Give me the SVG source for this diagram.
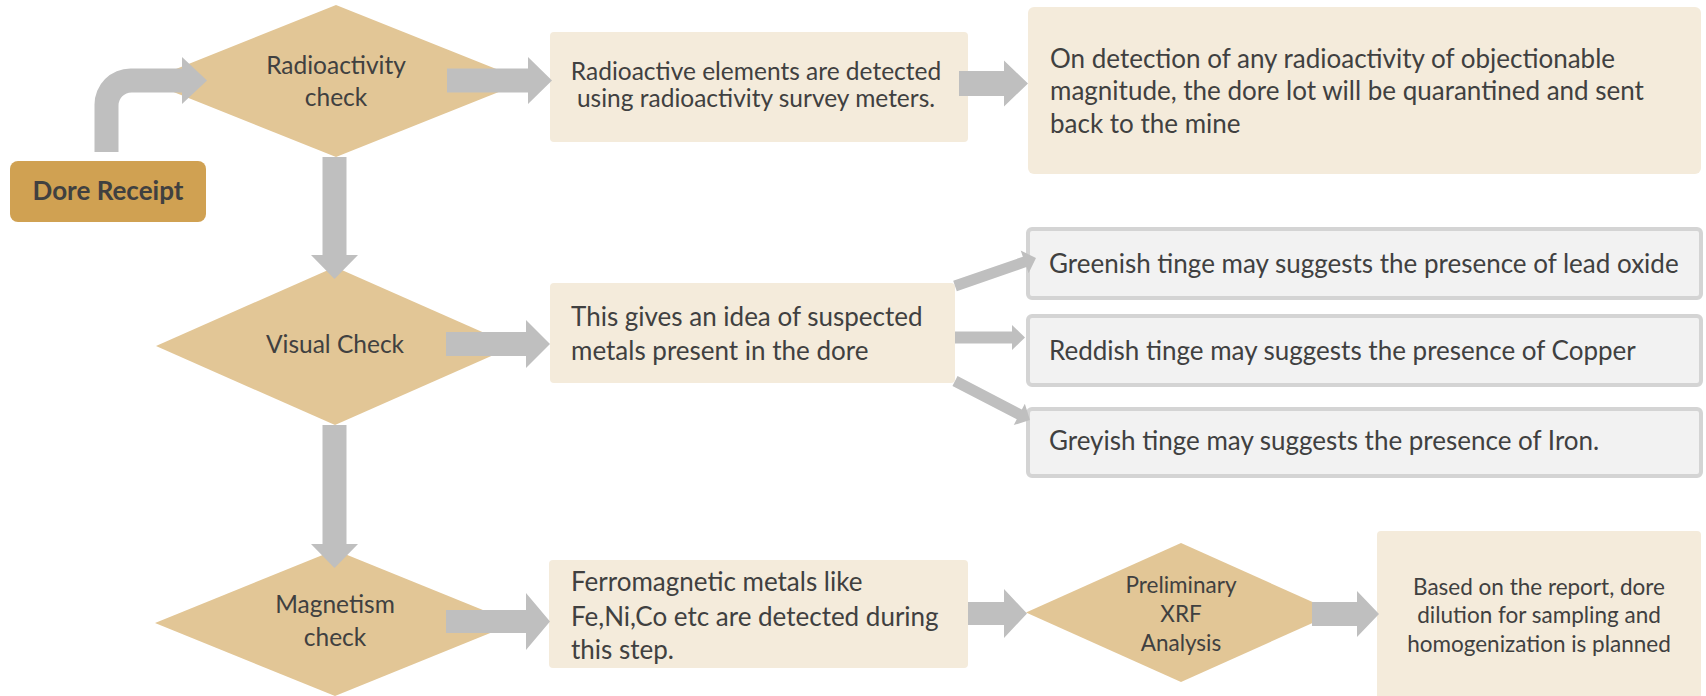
<svg xmlns="http://www.w3.org/2000/svg" width="1706" height="696" viewBox="0 0 1706 696">
<style>
.dia{fill:#E2C696}
.box{fill:#F4EBDB}
.gbox{fill:#F2F2F2;stroke:#D4D4D4;stroke-width:4}
.arr{fill:#BFBFBF}
.t{font-family:Lato,"Liberation Sans",sans-serif;fill:#404040;font-size:24.5px}
.L{font-size:26px}
.s{font-size:22.5px}
.m{text-anchor:middle}
.b{font-weight:bold}
</style>
<rect width="1706" height="696" fill="#FFFFFF"/>
<g id="nodes">
<g id="dore"><rect x="10" y="161" width="196" height="61" rx="8" fill="#D0A152"/><text class="t L m b" x="108" y="200">Dore Receipt</text></g>
<g id="radio"><polygon class="dia" points="336,5 526,81 336,157 146,81"/><text class="t m" x="336" y="74">Radioactivity</text><text class="t m" x="336" y="106">check</text></g>
<g id="radioText"><rect class="box" x="550" y="32" width="418" height="110" rx="4"/><text class="t m" x="756" y="80">Radioactive elements are detected</text><text class="t m" x="756" y="107">using radioactivity survey meters.</text></g>
<g id="quarantine"><rect class="box" x="1028" y="7" width="673" height="167" rx="6"/><text class="t L" x="1050" y="68">On detection of any radioactivity of objectionable</text><text class="t L" x="1050" y="100">magnitude, the dore lot will be quarantined and sent</text><text class="t L" x="1050" y="133">back to the mine</text></g>
<g id="visual"><polygon class="dia" points="335,267 514,346 335,425 156,346"/><text class="t m" x="335" y="353">Visual Check</text></g>
<g id="visualText"><rect class="box" x="550" y="283" width="405" height="100" rx="4"/><text class="t L" x="571" y="326">This gives an idea of suspected</text><text class="t L" x="571" y="360">metals present in the dore</text></g>
<g id="green"><rect class="gbox" x="1028" y="229" width="673" height="69" rx="4"/><text class="t L" x="1049" y="273">Greenish tinge may suggests the presence of lead oxide</text></g>
<g id="red"><rect class="gbox" x="1028" y="316" width="673" height="69" rx="4"/><text class="t L" x="1049" y="360">Reddish tinge may suggests the presence of Copper</text></g>
<g id="grey"><rect class="gbox" x="1028" y="409" width="673" height="67" rx="4"/><text class="t L" x="1049" y="450">Greyish tinge may suggests the presence of Iron.</text></g>
<g id="magnet"><polygon class="dia" points="335,550 515,623 335,696 155,623"/><text class="t m" x="335" y="613">Magnetism</text><text class="t m" x="335" y="646">check</text></g>
<g id="magnetText"><rect class="box" x="549" y="560" width="419" height="108" rx="4"/><text class="t L" x="571" y="591">Ferromagnetic metals like</text><text class="t L" x="571" y="626">Fe,Ni,Co etc are detected during</text><text class="t L" x="571" y="659">this step.</text></g>
<g id="xrf"><polygon class="dia" points="1181,543 1336,612.5 1181,682 1026,612.5"/><text class="t s m" x="1181" y="593">Preliminary</text><text class="t s m" x="1181" y="622">XRF</text><text class="t s m" x="1181" y="651">Analysis</text></g>
<g id="plan"><rect class="box" x="1377" y="531" width="324" height="170" rx="4"/><text class="t s m" x="1539" y="595">Based on the report, dore</text><text class="t s m" x="1539" y="623">dilution for sampling and</text><text class="t s m" x="1539" y="652">homogenization is planned</text></g>
</g>
<g id="connectors">
<path class="arr" d="M94.5,152 L94.5,104.5 A36,36 0 0 1 130.5,68.5 L182,68.5 L182,57 L207,80.5 L182,104 L182,92.5 L131.5,92.5 A13,13 0 0 0 118.5,105.5 L118.5,152 Z"/>
<polygon class="arr" points="447,68.5 528,68.5 528,57 552,80.5 528,104 528,92.5 447,92.5"/>
<polygon class="arr" points="959,71 1004,71 1004,60.5 1028,83.5 1004,106.5 1004,96 959,96"/>
<polygon class="arr" points="322.5,157 346.5,157 346.5,255 358,255 334.5,279 311,255 322.5,255"/>
<polygon class="arr" points="446,332 526,332 526,320 550,344 526,368 526,356 446,356"/>
<polygon class="arr" points="322.5,425 346.5,425 346.5,544 358,544 334.5,568 311,544 322.5,544"/>
<polygon class="arr" points="446,610 526,610 526,593 550,621.5 526,650 526,633 446,633"/>
<polygon class="arr" points="968,602 1004,602 1004,589 1027,613.5 1004,638 1004,625 968,625"/>
<polygon class="arr" points="1312,602 1357,602 1357,591 1379,614 1357,637 1357,626 1312,626"/>
<polygon class="arr" transform="translate(955,286) rotate(-19.07)" points="0,-5.5 73.7,-5.5 73.7,-12 85.7,0 73.7,12 73.7,5.5 0,5.5"/>
<polygon class="arr" points="955,331.5 1012,331.5 1012,325 1025,337.5 1012,350 1012,343.5 955,343.5"/>
<polygon class="arr" transform="translate(955,381) rotate(27.5)" points="0,-5.5 72.5,-5.5 72.5,-12 84.5,0 72.5,12 72.5,5.5 0,5.5"/>
</g>
</svg>
